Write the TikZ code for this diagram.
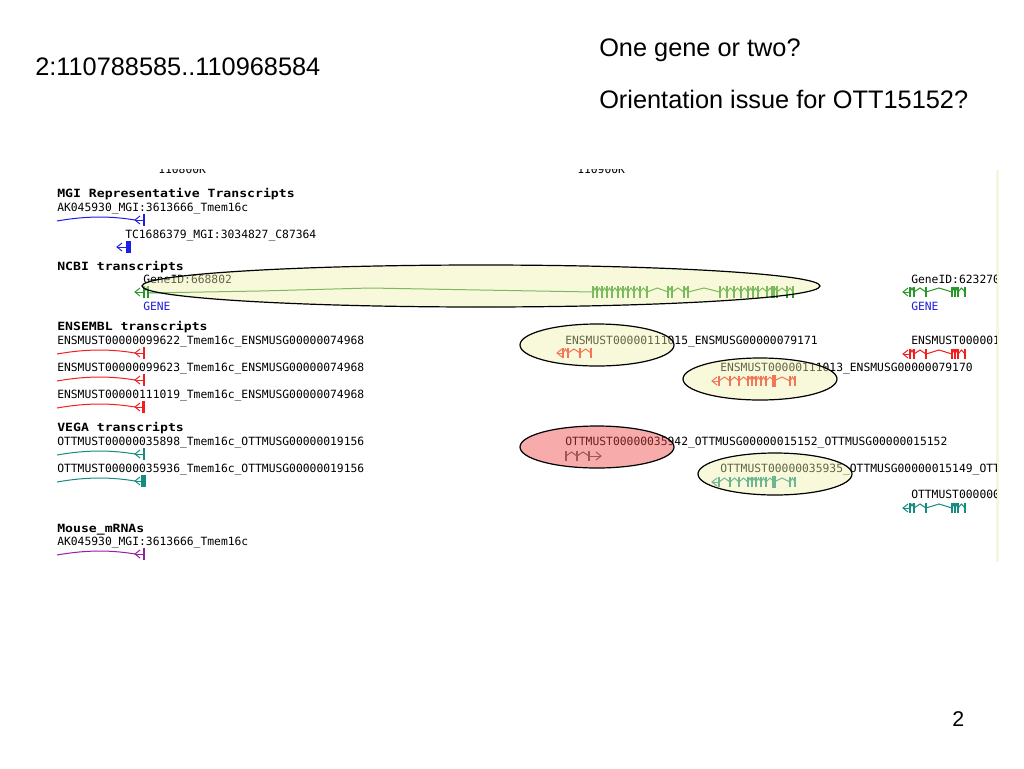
\documentclass[tikz,border=0pt]{standalone}
\usepackage{fontspec}
\setmainfont{Liberation Sans}
\newfontfamily\gbmono{DejaVu Sans Mono}
\newfontfamily\gbhdr[FakeStretch=1.16]{DejaVu Sans Mono}
\definecolor{gbblue}{RGB}{30,30,230}
\definecolor{gbgreen}{RGB}{40,150,40}
\definecolor{gbred}{RGB}{245,30,30}
\definecolor{gbteal}{RGB}{20,140,130}
\definecolor{gbpurple}{RGB}{150,30,160}
\definecolor{gbgray}{RGB}{95,105,95}
\definecolor{genetxt}{RGB}{30,30,220}
\definecolor{hiyellow}{RGB}{240,240,170}
\definecolor{hipink}{RGB}{238,70,70}
\definecolor{edgeband}{RGB}{246,246,220}
% gene model: colour, y, half height, list of exon x
\newcommand\genemodel[4]{%
  \foreach \gx [count=\gi, remember=\gx as \gp (initially 0)] in {#4}{%
    \ifnum\gi>1 \draw[#1,line width=0.75pt] (\gp,#2) -- ({(\gp+\gx)/2},{#2-4}) -- (\gx,#2);\fi
    \draw[#1,line width=1.5pt] (\gx,{#2-#3}) -- (\gx,{#2+#3});
  }}
% left pointing chevron: colour, tip x, y, end x of stem
\newcommand\chevleft[4]{%
  \draw[#1,line width=0.75pt] ({#2+5},{#3-4}) -- (#2,#3) -- ({#2+5},{#3+4});
  \draw[#1,line width=0.75pt] (#2,#3) -- (#4,#3);}
% partial left transcript: colour, y, bar width
\newcommand\lefttrack[3]{%
  \draw[#1,line width=0.75pt] (57,{#2+1}) .. controls (80,{#2-3}) and (105,{#2-5}) .. (135,#2);
  \chevleft{#1}{135}{#2}{143}
  \draw[#1,line width=#3] (143.5,{#2-6}) -- (143.5,{#2+6});}
\begin{document}
\begin{tikzpicture}[x=0.75pt,y=-0.75pt,
  title/.style={anchor=base west,inner sep=0pt,font=\fontsize{19}{22}\selectfont},
  pagenum/.style={anchor=base west,inner sep=0pt,font=\fontsize{16}{18}\selectfont},
  mono/.style={anchor=base west,inner sep=0pt,font=\gbmono\fontsize{8.5}{10}\selectfont},
  hdr/.style={anchor=base west,inner sep=0pt,font=\gbhdr\bfseries\fontsize{8.5}{10}\selectfont},
  genelbl/.style={mono,text=genetxt},
  hilite/.style={draw=black,line width=0.9pt,fill=hiyellow,fill opacity=0.42},
  hipinkstyle/.style={draw=black,line width=0.9pt,fill=hipink,fill opacity=0.45}]
\useasboundingbox (0,0) rectangle (1024,768);
\fill[white] (0,0) rectangle (1024,768);

% slide texts
\node[title] (range) at (35,75) {2:110788585..110968584};
\node[title] (q1) at (599,56) {One gene or two?};
\node[title] (q2) at (599,108) {Orientation issue for OTT15152?};
\node[pagenum] (pg) at (952,726) {2};

% right edge band of the browser panel
\fill[edgeband] (995.5,170) rectangle (999,562);

\begin{scope}
\clip (40,169) rectangle (996,570);
% ruler labels (cut off)
\node[mono] (t1) at (158,173) {110800K};
\node[mono] (t2) at (577,173) {110900K};

% MGI
\node[hdr] (hmgi) at (57,197) {MGI Representative Transcripts};
\node[mono] (mgi1) at (57,211) {AK045930\_MGI:3613666\_Tmem16c};
\lefttrack{gbblue}{220}{1.5pt}
\node[mono] (mgi2) at (125,238) {TC1686379\_MGI:3034827\_C87364};
\chevleft{gbblue}{117}{247}{126}
\draw[gbblue,line width=3.75pt] (128,241) -- (128,253);

% NCBI
\node[hdr] (hncbi) at (57,270) {NCBI transcripts};
\node[mono] (gid1) at (143,283) {GeneID:668802};
\node[genelbl] (gene1) at (143,310) {GENE};
\chevleft{gbgreen}{135}{292}{144}
\genemodel{gbgreen}{292}{6}{144,148}
\draw[gbgreen,line width=0.75pt] (148,293) -- (260,291) -- (370,288) -- (480,290) -- (593,292);
\genemodel{gbgreen}{292}{6}{593,597,602,607,612,618,623,628,634,640,647,668,672,684,688,720,727,734,741,748,753,758,767,773,777,787,793}
\draw[gbgreen,line width=3pt] (773,286) -- (773,298);
\node[mono] (gid2) at (911,283) {GeneID:623270};
\node[genelbl] (gene2) at (911,310) {GENE};
\chevleft{gbgreen}{903}{292}{910}
\genemodel{gbgreen}{292}{5}{910,914,926,952,955,958,965}

% ENSEMBL
\node[hdr] (hens) at (57,330) {ENSEMBL transcripts};
\node[mono] (e1) at (57,344) {ENSMUST00000099622\_Tmem16c\_ENSMUSG00000074968};
\lefttrack{gbred}{353}{1.5pt}
\node[mono] (e2) at (57,371) {ENSMUST00000099623\_Tmem16c\_ENSMUSG00000074968};
\lefttrack{gbred}{380}{1.5pt}
\node[mono] (e3) at (57,398) {ENSMUST00000111019\_Tmem16c\_ENSMUSG00000074968};
\lefttrack{gbred}{407}{2.4pt}
\node[mono] (e4) at (565,344) {ENSMUST00000111015\_ENSMUSG00000079171};
\chevleft{gbred}{557}{353}{563}
\genemodel{gbred}{353}{5}{563,568,580,591}
\node[mono] (e5) at (720,371) {ENSMUST00000111013\_ENSMUSG00000079170};
\chevleft{gbred}{712}{381}{719}
\genemodel{gbred}{381}{5}{719,730,739,748,752,756,761,766,774,790,795}
\draw[gbred,line width=3pt] (774,375) -- (774,387);
\node[mono] (e6) at (911,344) {ENSMUST000001};
\chevleft{gbred}{903}{354}{910}
\genemodel{gbred}{354}{5}{910,914,926,952,955,958,965}

% VEGA
\node[hdr] (hvega) at (57,431) {VEGA transcripts};
\node[mono] (v1) at (57,445) {OTTMUST00000035898\_Tmem16c\_OTTMUSG00000019156};
\lefttrack{gbteal}{454}{1.5pt}
\node[mono] (v2) at (57,472) {OTTMUST00000035936\_Tmem16c\_OTTMUSG00000019156};
\lefttrack{gbteal}{481}{3.75pt}
\node[mono] (v3) at (565,445) {OTTMUST00000035942\_OTTMUSG00000015152\_OTTMUSG00000015152};
\genemodel{gbgray}{456}{5}{566,577,589}
\draw[gbgray,line width=0.75pt] (589,456) -- (601,456);
\draw[gbgray,line width=0.75pt] (596,452) -- (601,456) -- (596,460);
\node[mono] (v4) at (720,472) {OTTMUST00000035935\_OTTMUSG00000015149\_OTT};
\chevleft{gbteal}{712}{482}{719}
\genemodel{gbteal}{482}{5}{719,730,739,748,752,756,761,766,774,790,795}
\draw[gbteal,line width=3pt] (774,476) -- (774,488);
\node[mono] (v5) at (911,498) {OTTMUST0000003};
\chevleft{gbteal}{903}{508}{910}
\genemodel{gbteal}{508}{5}{910,914,926,952,955,958,965}

% Mouse mRNAs
\node[hdr] (hmm) at (57,532) {Mouse\_mRNAs};
\node[mono] (m1) at (57,545) {AK045930\_MGI:3613666\_Tmem16c};
\lefttrack{gbpurple}{554}{1.5pt}
\end{scope}

% highlight ellipses
\draw[hilite] (481,286) ellipse [x radius=339, y radius=21];
\draw[hilite] (597,345) ellipse [x radius=77, y radius=21];
\draw[hilite] (760,379) ellipse [x radius=77, y radius=21];
\draw[hipinkstyle] (597,447) ellipse [x radius=77, y radius=21];
\draw[hilite] (775,474) ellipse [x radius=77, y radius=21];
\end{tikzpicture}
\end{document}
